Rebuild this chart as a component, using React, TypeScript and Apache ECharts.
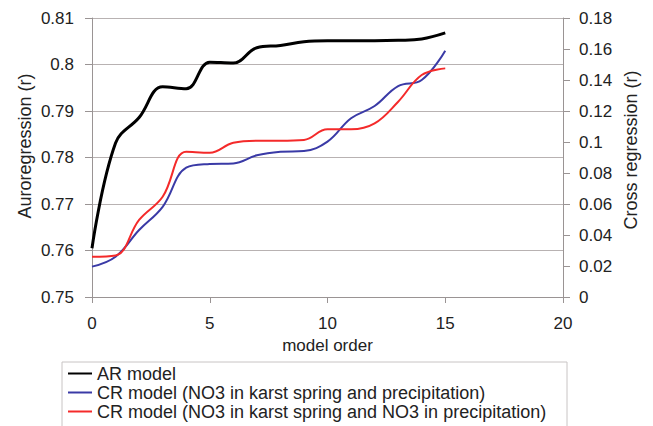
import React, { useEffect, useRef } from "react";
import * as echarts from "echarts";

const modelOrder = [0, 1, 2, 3, 4, 5, 6, 7, 8, 9, 10, 11, 12, 13, 14, 15];
const arModel = [0.7605, 0.7831, 0.7886, 0.7952, 0.7948, 0.8005, 0.8003, 0.8036, 0.8041, 0.8049, 0.8051, 0.8051, 0.8051, 0.8052, 0.8055, 0.8068];
const crPrecip = [0.0196, 0.026, 0.0432, 0.0582, 0.0834, 0.0858, 0.0862, 0.0914, 0.0937, 0.0942, 0.1002, 0.1153, 0.1232, 0.1361, 0.14, 0.1589];
const crNo3Precip = [0.026, 0.0268, 0.0497, 0.0647, 0.0937, 0.0931, 0.0995, 0.1008, 0.1008, 0.1013, 0.1082, 0.1082, 0.112, 0.126, 0.1432, 0.1475];
const seriesNames = [
  "AR model",
  "CR model (NO3 in karst spring and precipitation)",
  "CR model (NO3 in karst spring and NO3 in precipitation)",
];

const FONT = "'Liberation Sans', Arial, Helvetica, sans-serif";
const TXT = "#222";
const fmt = (v: number) => String(+v.toFixed(2));

export default function App() {
  const ref = useRef<HTMLDivElement>(null);
  useEffect(() => {
    if (!ref.current) return;
    const chart = echarts.init(ref.current, null, { renderer: "svg" });
    const pair = (ys: number[]) => modelOrder.map((x, i) => [x, ys[i]]);
    chart.setOption({
      animation: false,
      backgroundColor: "#fff",
      textStyle: { fontFamily: FONT, color: TXT },
      grid: { left: 92, right: 90, top: 18, bottom: 129, containLabel: false },
      xAxis: {
        type: "value",
        min: 0,
        max: 20,
        interval: 5,
        name: "model order",
        nameLocation: "middle",
        nameGap: 39,
        nameTextStyle: { fontSize: 17, color: TXT, fontFamily: FONT },
        axisLine: { lineStyle: { color: "#9a9494", width: 1 } },
        axisTick: { show: true, length: 6, lineStyle: { color: "#9a9494" } },
        axisLabel: { fontSize: 17, color: TXT, margin: 18, fontFamily: FONT },
        splitLine: { show: false },
      },
      yAxis: [
        {
          type: "value",
          min: 0.75,
          max: 0.81,
          interval: 0.01,
          position: "left",
          axisLine: { show: true, lineStyle: { color: "#9a9494", width: 1 } },
          axisTick: { show: true, length: 7, lineStyle: { color: "#9a9494" } },
          axisLabel: { fontSize: 17, color: TXT, margin: 18, fontFamily: FONT, formatter: fmt },
          splitLine: { show: true, lineStyle: { color: "#b8b2b2", width: 1 } },
        },
        {
          type: "value",
          min: 0,
          max: 0.18,
          interval: 0.02,
          position: "right",
          axisLine: { show: true, lineStyle: { color: "#9a9494", width: 1 } },
          axisTick: { show: true, length: 7, lineStyle: { color: "#9a9494" } },
          axisLabel: { fontSize: 17, color: TXT, margin: 16, fontFamily: FONT, formatter: fmt },
          splitLine: { show: false },
        },
      ],
      legend: {
        orient: "vertical",
        left: 63,
        top: 359,
        padding: 5,
        itemWidth: 24,
        itemHeight: 14,
        itemGap: 0,
        icon: "path://M0,6 L24,6 L24,8 L0,8 Z",
        textStyle: { fontSize: 18, color: TXT, fontFamily: FONT, lineHeight: 19 },
        data: seriesNames,
      },
      graphic: [
        {
          type: "rect",
          shape: { x: 62, y: 362, width: 505, height: 80 },
          style: { fill: "none", stroke: "#c8c4c4", lineWidth: 1 },
          silent: true,
        },
        {
          type: "text",
          x: 25,
          y: 146,
          rotation: Math.PI / 2,
          style: {
            text: "Auroregression (r)",
            fontSize: 18,
            fontFamily: FONT,
            fill: TXT,
            align: "center",
            verticalAlign: "middle",
          },
        },
        {
          type: "text",
          x: 631,
          y: 150,
          rotation: Math.PI / 2,
          style: {
            text: "Cross regression (r)",
            fontSize: 18,
            fontFamily: FONT,
            fill: TXT,
            align: "center",
            verticalAlign: "middle",
          },
        },
      ],
      series: [
        {
          name: seriesNames[0],
          type: "line",
          yAxisIndex: 0,
          data: pair(arModel),
          smooth: 0.4,
          showSymbol: false,
          symbol: "none",
          color: "#000000",
          lineStyle: { color: "#000000", width: 3 },
        },
        {
          name: seriesNames[1],
          type: "line",
          yAxisIndex: 1,
          data: pair(crPrecip),
          smooth: 0.4,
          showSymbol: false,
          symbol: "none",
          color: "#3a3aa6",
          lineStyle: { color: "#3a3aa6", width: 2 },
        },
        {
          name: seriesNames[2],
          type: "line",
          yAxisIndex: 1,
          data: pair(crNo3Precip),
          smooth: 0.4,
          showSymbol: false,
          symbol: "none",
          color: "#f42a2a",
          lineStyle: { color: "#f42a2a", width: 2 },
        },
      ],
    });
    return () => chart.dispose();
  }, []);
  return (
    <div
      ref={ref}
      style={{ position: "fixed", left: 0, top: 0, width: 653, height: 426, background: "#fff" }}
    />
  );
}
